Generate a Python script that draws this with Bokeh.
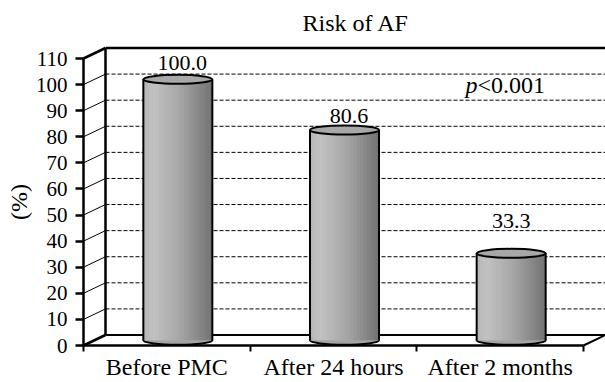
import numpy as np
from bokeh.plotting import figure
from bokeh.models import Range1d, FixedTicker, LinearAxis
from bokeh.core.properties import value
from bokeh.embed import file_html
from bokeh.resources import INLINE

# ---- data ----
categories = ["Before PMC", "After 24 hours", "After 2 months"]
values = [100.0, 80.6, 33.3]
value_labels = ["100.0", "80.6", "33.3"]
y_ticks = list(range(0, 111, 10))
y_max = 110
p_note_italic = "p"
p_note_rest = "<0.001"
title_text = "Risk of AF"
y_title = "(%)"

# ---- style / layout ----
FONT = "Liberation Serif"
FS_TICK = "21px"
FS_VAL = "22px"
FS_BIG = "24px"
PX_X = 500.0 / 3.0          # px per category unit
PX_Y = 287.0 / 110.0        # px per value unit
DX = 22.0 / PX_X            # depth offset (x, data units)
DV = 10.5 / PX_Y            # depth offset (y, value units)
CYL_W = 69.0 / PX_X         # cylinder width
ELL_H = 9.0 / PX_Y          # ellipse height
label_lift = [8.1, 7.4, 14.4]
label_shift = [0.7, 0.7, 0.5]
N_STRIPS = 22

n = len(categories)
W, H = 605, 382
axis_px_x, axis_px_y, frame_top = 83, 345, 40
x_start = -axis_px_x / PX_X
x_end = (W - axis_px_x) / PX_X
y_start = -(H - axis_px_y) / PX_Y
y_end = (axis_px_y - frame_top) / PX_Y

p = figure(width=W, height=H, x_range=Range1d(x_start, x_end), y_range=Range1d(y_start, y_end),
           output_backend="svg", toolbar_location=None,
           min_border_left=0, min_border_right=0,
           min_border_top=frame_top, min_border_bottom=0,
           x_axis_location=None, y_axis_location=None)
p.outline_line_color = None
p.xgrid.visible = False
p.ygrid.visible = False
p.background_fill_color = "white"
p.border_fill_color = "white"

# title
p.title.text = title_text
p.title.text_font = FONT
p.title.text_font_size = FS_BIG
p.title.text_font_style = "normal"
p.title.text_color = "black"
p.title.align = "left"
p.title.offset = 302

# ---- back wall gridlines ----
grid_vals = [v for v in y_ticks if 0 < v < y_max]
p.segment(x0=[DX] * len(grid_vals), y0=[v + DV for v in grid_vals],
          x1=[n + DX] * len(grid_vals), y1=[v + DV for v in grid_vals],
          line_color="black", line_width=1, line_dash="4 2")
# side wall diagonals
p.segment(x0=[0] * len(grid_vals), y0=grid_vals, x1=[DX] * len(grid_vals),
          y1=[v + DV for v in grid_vals], line_color="black", line_width=1)
# box edges
p.segment(x0=[0, 0, DX, DX, DX, n + DX, n],
          y0=[0, y_max, DV, y_max + DV, DV, DV, 0],
          x1=[DX, DX, DX, n + DX, n + DX, n + DX, n + DX],
          y1=[DV, y_max + DV, y_max + DV, y_max + DV, DV, y_max + DV, DV],
          line_color="black", line_width=[2.5, 2.5, 2.5, 2.5, 2, 1, 2])

# ---- cylinders ----
cx = [i + 0.5 + DX / 2 for i in range(n)]
base = DV / 2
tops = [v + DV / 2 for v in values]

p.ellipse(x=cx, y=[base] * n, width=CYL_W, height=ELL_H,
          fill_color="#a4a4a4", line_color="black", line_width=2)

ts = np.linspace(0, 1, N_STRIPS + 1)
grays = np.interp((ts[:-1] + ts[1:]) / 2, [0, 0.15, 0.55, 1.0], [182, 194, 165, 115])
sl, sr, st, sb, sc = [], [], [], [], []
for i in range(n):
    x0 = cx[i] - CYL_W / 2
    for k in range(N_STRIPS):
        sl.append(x0 + ts[k] * CYL_W)
        sr.append(min(x0 + ts[k + 1] * CYL_W + 0.006, x0 + CYL_W))
        st.append(tops[i])
        sb.append(base)
        g = int(grays[k])
        sc.append("#%02x%02x%02x" % (g, g, g))
p.quad(left=sl, right=sr, top=st, bottom=sb, fill_color=sc, line_color=None)

p.segment(x0=[c - CYL_W / 2 for c in cx] + [c + CYL_W / 2 for c in cx],
          y0=[base] * (2 * n),
          x1=[c - CYL_W / 2 for c in cx] + [c + CYL_W / 2 for c in cx],
          y1=tops + tops, line_color="black", line_width=2)

p.ellipse(x=cx, y=tops, width=CYL_W, height=ELL_H,
          fill_color="#a8a8a8", line_color="black", line_width=2)

txt = dict(text_font=value(FONT), text_baseline="middle", text_color="black")

# value labels
p.text(x=[i + 0.5 + DX * s for i, s in enumerate(label_shift)],
       y=[v + l for v, l in zip(values, label_lift)], text=value_labels,
       text_font_size=value(FS_VAL), text_align="center", **txt)

# p-value note
note_x = (477 - axis_px_x) / PX_X
note_y = 100.0
p.text(x=[note_x], y=[note_y], text=[p_note_italic], text_font_size=value(FS_BIG),
       text_font_style="italic", text_align="right", **txt)
p.text(x=[note_x], y=[note_y], text=[p_note_rest], text_font_size=value(FS_BIG),
       text_align="left", **txt)

# category labels below the floor
p.text(x=[i + 0.5 for i in range(n)], y=[-8.4] * n, text=categories,
       text_font_size=value(FS_BIG), text_align="center", **txt)

# y title
p.text(x=[-(axis_px_x - 18) / PX_X], y=[y_max / 2], text=[y_title], angle=np.pi / 2,
       text_font_size=value(FS_BIG), text_align="center", **txt)

# ---- axes ----
yaxis = LinearAxis(ticker=FixedTicker(ticks=y_ticks), bounds=(0, y_max), fixed_location=0)
yaxis.axis_line_width = 2.5
yaxis.major_tick_out = 8
yaxis.major_tick_in = 0
yaxis.major_tick_line_width = 2.5
yaxis.minor_tick_line_color = None
yaxis.major_label_standoff = 8
yaxis.major_label_text_font = FONT
yaxis.major_label_text_font_size = FS_TICK
yaxis.major_label_text_color = "black"
p.add_layout(yaxis, "left")

xaxis = LinearAxis(ticker=FixedTicker(ticks=[], minor_ticks=list(range(n + 1))),
                   bounds=(0, n), fixed_location=0)
xaxis.axis_line_width = 2.5
xaxis.major_tick_line_color = None
xaxis.minor_tick_out = 6
xaxis.minor_tick_in = 0
xaxis.minor_tick_line_width = 2
xaxis.minor_tick_line_color = "black"
p.add_layout(xaxis, "below")

open("out.html", "w").write(file_html(p, INLINE))
